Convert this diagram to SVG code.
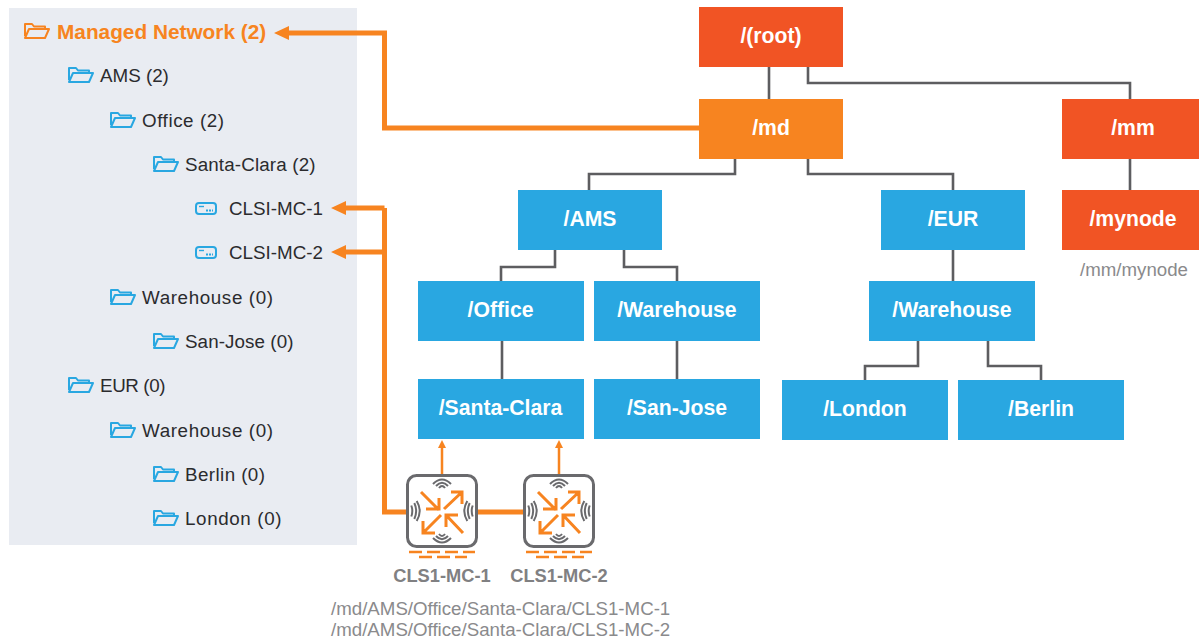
<svg xmlns="http://www.w3.org/2000/svg" xmlns:xlink="http://www.w3.org/1999/xlink" width="1199" height="640" viewBox="0 0 1199 640">
<style>
text{font-family:"Liberation Sans",Arial,sans-serif}
.tree{font-size:18.8px;fill:#2b2b2e}
.n{font-size:21.2px;font-weight:700;fill:#fff;text-anchor:middle}
.blue{fill:#29a7e1}.red{fill:#f15424}.org{fill:#f78420}
.gl{fill:none;stroke:#5d5d60;stroke-width:2.6}
.ol{fill:none;stroke:#f78420;stroke-width:5}
.ot{fill:none;stroke:#f78420;stroke-width:2.5}
.path{font-size:18.7px;fill:#8a8a8c}
.cap{font-size:18.3px;font-weight:700;fill:#808082}
.fold{fill:none;stroke-width:2;stroke-linejoin:round}
.arc{fill:none;stroke:#6a6a6d;stroke-width:2}
.ar{fill:none;stroke:#f78420;stroke-width:3}
</style>
<defs>
<g id="folder"><path class="fold" d="M1 14V2H8L10 4.500H21V7M1 16L5 7H25L21 16H1Z"/></g>
<g id="dev"><rect x="1" y="1" width="20" height="11" rx="3" fill="none" stroke="#29a7e1" stroke-width="2"/><path d="M4 4.500H9" stroke="#29a7e1" stroke-width="1.400"/><path d="M11 8.500h7" stroke="#29a7e1" stroke-width="2" stroke-dasharray="2 1"/></g>
<g id="ap">
<rect x="1.500" y="1.500" width="69" height="71" rx="9" fill="none" stroke="#6a6a6d" stroke-width="3"/>
<path class="arc" d="M27 10Q36 1 45 10M30 12Q36 5.500 42 12M33 14Q36 10 39 14"/>
<path class="arc" d="M27 64Q36 73 45 64M30 62Q36 68.500 42 62M33 60Q36 64 39 60"/>
<path class="arc" d="M10.700 27Q16.700 37 10.700 47M8.300 29Q12 37 8.300 45M5.300 31.500Q7.300 37 5.300 42.500"/>
<path class="arc" d="M61.300 27Q55.300 37 61.300 47M63.700 29Q60 37 63.700 45M66.700 31.500Q64.700 37 66.700 42.500"/>
<path class="ar" d="M15 18L33 36M20 35H33V24M38 35L56 18M45 18H56V30M35 41L17 59M17 47V59H29M40 41L57 59M40 53V41H52"/>
<path d="M3 78H69M13 83H61" stroke="#f78420" stroke-width="2.500" stroke-dasharray="13 5" fill="none"/>
</g>
</defs>
<rect x="9" y="8" width="348" height="537" fill="#e9ecf2"/>
<g id="connectors">
<path class="gl" d="M769 67V99M808 67V83H1130V99M589 190V174H735V159M808 159V174H953V190M555 250V267H501V281M624 250V267H677V281M953 250V281M1130 159V190M502 341V379M677 341V379M918 341V366H865V380M988 341V366H1041V380"/>
<path class="ol" d="M699 128H384.500V33H287M384.500 208V512H408M478 512H524M384.500 208H345M384.500 252H345"/>
<path d="M274 33L289 26V40ZM331 208L346 201V215ZM331 252L346 245V259Z" fill="#f78420"/>
<path class="ot" d="M442 474V446M559 474V446"/>
<path d="M442 440L446 448H438ZM559 440L563 448H555Z" fill="#f78420"/>
</g>
<g id="tree">
<g id="t0"><use xlink:href="#folder" x="24" y="22" stroke="#f78420"/><text x="57" y="39" font-size="20.800" font-weight="700" fill="#f78420">Managed Network (2)</text></g>
<g id="t1"><use xlink:href="#folder" x="68" y="66" stroke="#29a7e1"/><text class="tree" x="100" y="82">AMS (2)</text></g>
<g id="t2"><use xlink:href="#folder" x="110" y="111" stroke="#29a7e1"/><text class="tree" x="142" y="127" textLength="82">Office (2)</text></g>
<g id="t3"><use xlink:href="#folder" x="153" y="155" stroke="#29a7e1"/><text class="tree" x="185" y="171" textLength="130.500">Santa-Clara (2)</text></g>
<g id="t4"><use xlink:href="#dev" x="195" y="202"/><text class="tree" x="229" y="215">CLSI-MC-1</text></g>
<g id="t5"><use xlink:href="#dev" x="195" y="246"/><text class="tree" x="229" y="259">CLSI-MC-2</text></g>
<g id="t6"><use xlink:href="#folder" x="110" y="288" stroke="#29a7e1"/><text class="tree" x="142" y="304" textLength="131">Warehouse (0)</text></g>
<g id="t7"><use xlink:href="#folder" x="153" y="332" stroke="#29a7e1"/><text class="tree" x="185" y="348" textLength="108.500">San-Jose (0)</text></g>
<g id="t8"><use xlink:href="#folder" x="68" y="376" stroke="#29a7e1"/><text class="tree" x="100" y="392" textLength="65.500">EUR (0)</text></g>
<g id="t9"><use xlink:href="#folder" x="110" y="421" stroke="#29a7e1"/><text class="tree" x="142" y="437" textLength="131">Warehouse (0)</text></g>
<g id="t10"><use xlink:href="#folder" x="153" y="465" stroke="#29a7e1"/><text class="tree" x="185" y="481" textLength="80">Berlin (0)</text></g>
<g id="t11"><use xlink:href="#folder" x="153" y="509" stroke="#29a7e1"/><text class="tree" x="185" y="525" textLength="96.500">London (0)</text></g>
</g>
<g id="root"><rect class="red" x="699" y="7" width="144" height="60"/><text class="n" x="771" y="43">/(root)</text></g>
<g id="md"><rect class="org" x="699" y="99" width="144" height="60"/><text class="n" x="771" y="135">/md</text></g>
<g id="mm"><rect class="red" x="1062" y="99" width="137" height="60"/><text class="n" x="1133" y="135">/mm</text></g>
<g id="mynode"><rect class="red" x="1062" y="190" width="137" height="60"/><text class="n" x="1133" y="226">/mynode</text></g>
<g id="ams"><rect class="blue" x="518" y="190" width="144" height="60"/><text class="n" x="590" y="226">/AMS</text></g>
<g id="eur"><rect class="blue" x="881" y="190" width="144" height="60"/><text class="n" x="953" y="226">/EUR</text></g>
<g id="office"><rect class="blue" x="418" y="281" width="166" height="60"/><text class="n" x="500.500" y="317">/Office</text></g>
<g id="wh1"><rect class="blue" x="594" y="281" width="166" height="60"/><text class="n" x="677" y="317">/Warehouse</text></g>
<g id="wh2"><rect class="blue" x="869" y="281" width="166" height="60"/><text class="n" x="952" y="317">/Warehouse</text></g>
<g id="sc"><rect class="blue" x="418" y="379" width="166" height="60"/><text class="n" x="500.500" y="415">/Santa-Clara</text></g>
<g id="sj"><rect class="blue" x="594" y="379" width="166" height="60"/><text class="n" x="677" y="415">/San-Jose</text></g>
<g id="london"><rect class="blue" x="782" y="380" width="166" height="60"/><text class="n" x="865" y="416">/London</text></g>
<g id="berlin"><rect class="blue" x="958" y="380" width="166" height="60"/><text class="n" x="1041" y="416">/Berlin</text></g>
<g id="ap1"><use xlink:href="#ap" x="406" y="474"/><text class="cap" x="442" y="582" text-anchor="middle">CLS1-MC-1</text></g>
<g id="ap2"><use xlink:href="#ap" x="523" y="474"/><text class="cap" x="559" y="582" text-anchor="middle">CLS1-MC-2</text></g>
<text class="path" x="1134" y="276" text-anchor="middle">/mm/mynode</text>
<text class="path" x="331" y="615">/md/AMS/Office/Santa-Clara/CLS1-MC-1</text>
<text class="path" x="331" y="636">/md/AMS/Office/Santa-Clara/CLS1-MC-2</text>
</svg>
